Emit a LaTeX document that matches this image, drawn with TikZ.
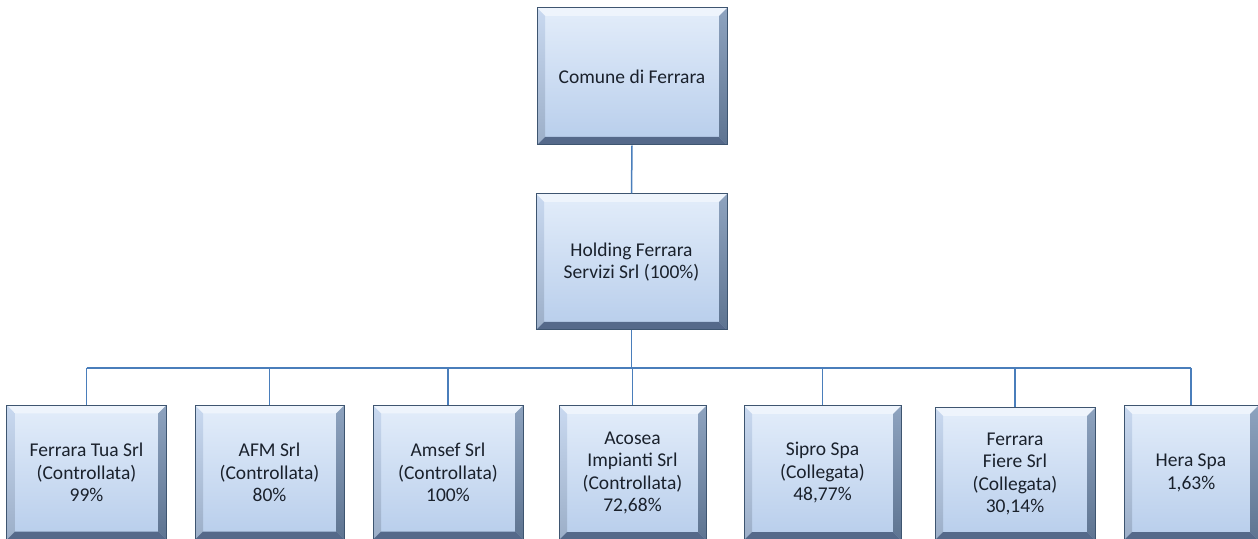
\documentclass[tikz,border=0pt]{standalone}
\usepackage{fontspec}
\setmainfont{Carlito}
\usetikzlibrary{calc}
\definecolor{facetop}{HTML}{E3EDFA}
\definecolor{facebot}{HTML}{B7CDEB}
\definecolor{edgecol}{HTML}{3E5570}
\definecolor{bevtopc}{HTML}{EEF4FC}
\definecolor{bevleftc}{HTML}{C9D9F0}
\definecolor{bevrighttop}{HTML}{8EA3BF}
\definecolor{bevrightbot}{HTML}{5E7491}
\definecolor{bevbotc}{HTML}{55698A}
\definecolor{linecol}{HTML}{4A7EBB}
\definecolor{txtcol}{HTML}{1A212C}
\tikzset{
  bevelbox/.style={rectangle, draw=edgecol, line width=1bp, top color=facetop, bottom color=facebot,
    align=center, text=txtcol, inner sep=0pt,
    font=\fontsize{19.5bp}{22.5bp}\selectfont,
    path picture={
      \coordinate (pnw) at (path picture bounding box.north west);
      \coordinate (pne) at (path picture bounding box.north east);
      \coordinate (psw) at (path picture bounding box.south west);
      \coordinate (pse) at (path picture bounding box.south east);
      \coordinate (inw) at ([shift={(8bp,-8bp)}]pnw);
      \coordinate (ine) at ([shift={(-8bp,-8bp)}]pne);
      \coordinate (isw) at ([shift={(8bp,8bp)}]psw);
      \coordinate (ise) at ([shift={(-8bp,8bp)}]pse);
      \fill[bevtopc] (pnw) -- (pne) -- (ine) -- (inw) -- cycle;
      \shade[top color=bevleftc, bottom color=facebot!85!black] (pnw) -- (inw) -- (isw) -- (psw) -- cycle;
      \shade[top color=bevrighttop, bottom color=bevrightbot] (pne) -- (pse) -- (ise) -- (ine) -- cycle;
      \fill[bevbotc] (psw) -- (isw) -- (ise) -- (pse) -- cycle;
    }},
  conn/.style={draw=linecol, line width=1.5bp}
}
\begin{document}
\begin{tikzpicture}[x=1bp,y=-1bp]
\useasboundingbox (0,0) rectangle (1258,539);
\clip (0,0) rectangle (1258,539);
\node[bevelbox, minimum width=190bp, minimum height=137bp] (top) at (632,76.5) {Comune di Ferrara};
\node[bevelbox, minimum width=191bp, minimum height=136bp] (hold) at (631.5,262) {Holding Ferrara\\Servizi Srl (100\%)};
\node[bevelbox, minimum width=159bp, minimum height=134bp] (b1) at (86.5,472.5) {Ferrara Tua Srl\\(Controllata)\\99\%};
\node[bevelbox, minimum width=149bp, minimum height=134bp] (b2) at (269.5,472.5) {AFM Srl\\(Controllata)\\80\%};
\node[bevelbox, minimum width=150bp, minimum height=134bp] (b3) at (448,472.5) {Amsef Srl\\(Controllata)\\100\%};
\node[bevelbox, minimum width=147bp, minimum height=134bp] (b4) at (632.5,473) {Acosea\\Impianti Srl\\(Controllata)\\72,68\%};
\node[bevelbox, minimum width=157bp, minimum height=134bp] (b5) at (822.5,473) {Sipro Spa\\(Collegata)\\48,77\%};
\node[bevelbox, minimum width=160bp, minimum height=132bp] (b6) at (1015,474) {Ferrara\\Fiere Srl\\(Collegata)\\30,14\%};
\node[bevelbox, minimum width=134bp, minimum height=134bp] (b7) at (1191,473) {Hera Spa\\1,63\%};
\coordinate (bus) at (631.5,368);
\draw[conn] (top.south) -- (hold.north);
\draw[conn] (hold.south) -- (bus);
\draw[conn] (b1.north |- bus) -- (b7.north |- bus);
\foreach \n in {b1,b2,b3,b4,b5,b6,b7}{
  \draw[conn] (\n.north |- bus) -- (\n.north);
}
\end{tikzpicture}
\end{document}
